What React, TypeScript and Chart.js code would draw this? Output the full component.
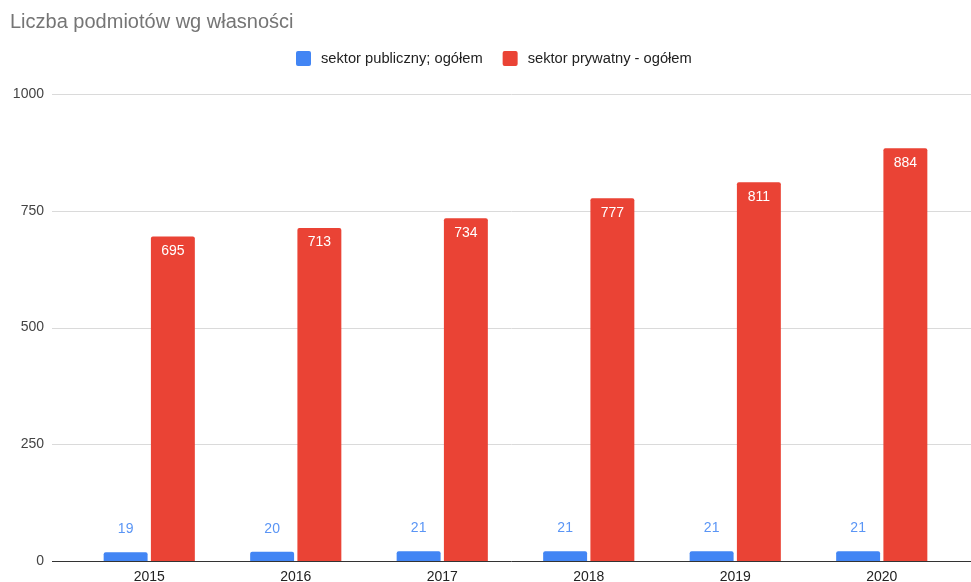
import React, { useEffect, useRef } from 'react';
import { Chart, registerables } from 'chart.js';

Chart.register(...registerables);

const chartTitle = 'Liczba podmiotów wg własności';
const years = ['2015', '2016', '2017', '2018', '2019', '2020'];
const seriesNames = ['sektor publiczny; ogółem', 'sektor prywatny - ogółem'];
const publicSector = [19, 20, 21, 21, 21, 21];
const privateSector = [695, 713, 734, 777, 811, 884];
const yTickValues = [0, 250, 500, 750, 1000];
const seriesColors = ['#4285F4', '#EA4335'];

const FONT = "Arial, 'Liberation Sans', sans-serif";

const gridPlugin = {
  id: 'gridPlugin',
  beforeDatasetsDraw(chart: any) {
    const { ctx } = chart;
    const y = chart.scales.y;
    ctx.save();
    ctx.lineWidth = 1;
    ctx.strokeStyle = '#dadada';
    yTickValues.forEach((v) => {
      if (v === 0) return;
      const py = Math.round(y.getPixelForValue(v)) + 0.5;
      ctx.beginPath();
      ctx.moveTo(52, py);
      ctx.lineTo(chart.width, py);
      ctx.stroke();
    });
    ctx.restore();
  },
  afterDatasetsDraw(chart: any) {
    const { ctx } = chart;
    const y = chart.scales.y;
    ctx.save();
    ctx.lineWidth = 1;
    ctx.strokeStyle = '#333333';
    const py = Math.round(y.getPixelForValue(0)) + 0.5;
    ctx.beginPath();
    ctx.moveTo(52, py);
    ctx.lineTo(chart.width, py);
    ctx.stroke();
    ctx.restore();
  },
};

const valueLabelPlugin = {
  id: 'valueLabelPlugin',
  afterDatasetsDraw(chart: any) {
    const { ctx } = chart;
    ctx.save();
    ctx.font = `14px ${FONT}`;
    ctx.textAlign = 'center';
    ctx.textBaseline = 'middle';
    chart.data.datasets.forEach((ds: any, di: number) => {
      const meta = chart.getDatasetMeta(di);
      meta.data.forEach((bar: any, i: number) => {
        const v = ds.data[i];
        if (di === 0) {
          ctx.fillStyle = '#5a95f5';
          ctx.fillText(String(v), bar.x, bar.y - 23);
        } else {
          ctx.fillStyle = '#ffffff';
          ctx.fillText(String(v), bar.x, bar.y + 14.5);
        }
      });
    });
    ctx.restore();
  },
};

const headerPlugin = {
  id: 'headerPlugin',
  afterDraw(chart: any) {
    const { ctx } = chart;
    ctx.save();
    ctx.font = `20px ${FONT}`;
    ctx.fillStyle = '#757575';
    ctx.textAlign = 'left';
    ctx.textBaseline = 'alphabetic';
    ctx.fillText(chartTitle, 10, 28);

    ctx.font = `14.7px ${FONT}`;
    ctx.textBaseline = 'middle';
    const box = 15;
    const gapBoxText = 10;
    const gapItems = 20;
    let x = 296;
    const cy = 58.5;
    seriesNames.forEach((n, i) => {
      ctx.fillStyle = seriesColors[i];
      ctx.beginPath();
      (ctx as any).roundRect(x, cy - box / 2, box, box, 2);
      ctx.fill();
      x += box + gapBoxText;
      ctx.fillStyle = '#222222';
      ctx.fillText(n, x, cy);
      x += ctx.measureText(n).width + gapItems;
    });
    ctx.restore();
  },
};

export default function App() {
  const ref = useRef<HTMLCanvasElement>(null);

  useEffect(() => {
    if (!ref.current) return;
    const chart = new Chart(ref.current, {
      type: 'bar',
      data: {
        labels: years,
        datasets: [
          {
            label: seriesNames[0],
            data: publicSector,
            backgroundColor: seriesColors[0],
            borderRadius: { topLeft: 2, topRight: 2, bottomLeft: 0, bottomRight: 0 },
            borderSkipped: false,
            categoryPercentage: 0.645,
            barPercentage: 0.93,
          },
          {
            label: seriesNames[1],
            data: privateSector,
            backgroundColor: seriesColors[1],
            borderRadius: { topLeft: 2, topRight: 2, bottomLeft: 0, bottomRight: 0 },
            borderSkipped: false,
            categoryPercentage: 0.645,
            barPercentage: 0.93,
          },
        ],
      },
      options: {
        responsive: false,
        animation: false,
        layout: { padding: { top: 94, right: 16, left: 0, bottom: 0 } },
        plugins: {
          legend: { display: false },
          title: { display: false },
          tooltip: { enabled: false },
        },
        scales: {
          x: {
            grid: { display: false, drawTicks: false },
            border: { display: false },
            ticks: { color: '#222222', font: { family: FONT, size: 14 }, padding: 8 },
            afterFit(scale: any) {
              scale.height = 21;
              scale.paddingLeft = 0;
              scale.paddingRight = 0;
            },
          },
          y: {
            min: 0,
            max: 1000,
            grid: { display: false, drawTicks: false },
            border: { display: false },
            ticks: {
              stepSize: 250,
              color: '#444444',
              font: { family: FONT, size: 14 },
              padding: 32,
              callback: (v: any) => String(v),
            },
            afterFit(scale: any) {
              scale.width = 76;
              scale.paddingTop = 0;
              scale.paddingBottom = 0;
            },
          },
        },
      },
      plugins: [gridPlugin, valueLabelPlugin, headerPlugin],
    });
    return () => chart.destroy();
  }, []);

  return (
    <div style={{ position: 'fixed', left: 0, top: 0, width: 971, height: 582, background: '#fff' }}>
      <canvas ref={ref} width={971} height={582} style={{ width: 971, height: 582 }} />
    </div>
  );
}
